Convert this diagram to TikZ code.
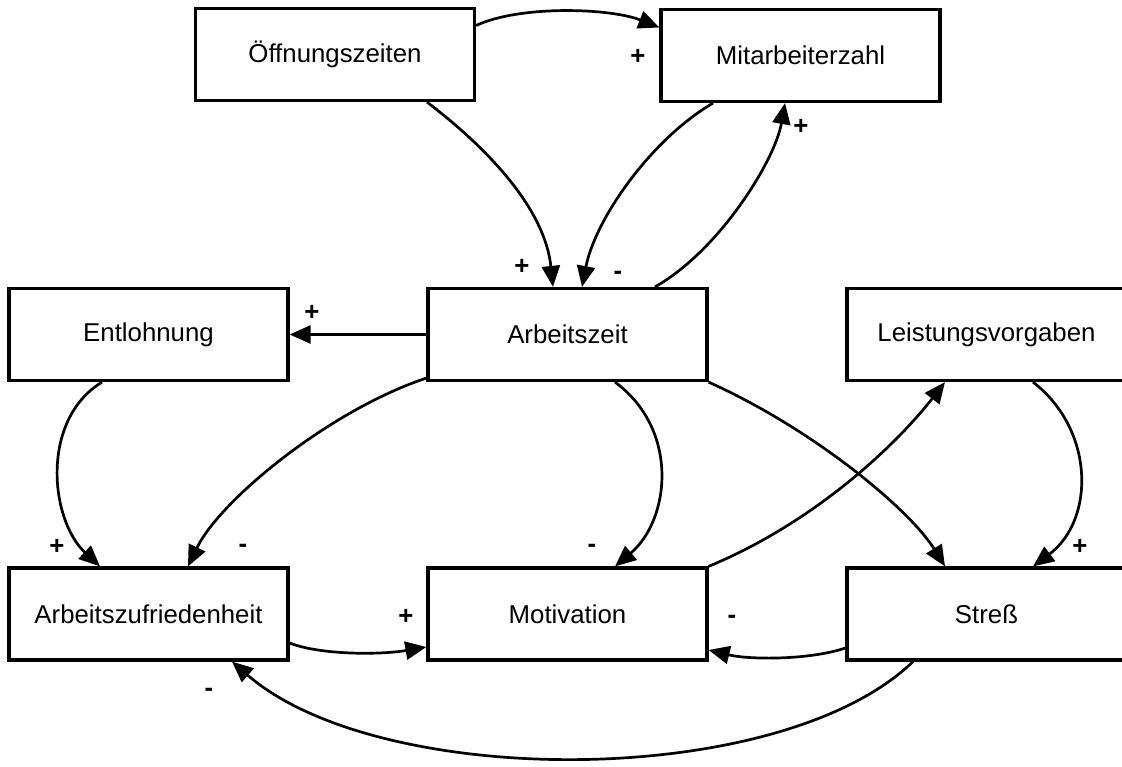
\documentclass[tikz,border=0pt]{standalone}
\usepackage{fontspec}
\setmainfont{Liberation Sans}
\usetikzlibrary{arrows.meta,calc}
\begin{document}
\begin{tikzpicture}[x=1pt,y=-1pt,
 box/.style={draw, line width=3.2pt, minimum width=279pt, minimum height=92pt, inner sep=0pt, font=\fontsize{25.8}{30}\selectfont},
 conn/.style={line width=2.7pt, -{Triangle[length=21pt,width=18pt]}},
 sign/.style={font=\fontsize{25.8}{30}\selectfont\bfseries, inner sep=0pt}]
\clip (0,0) rectangle (1122,767);
\fill[white] (0,0) rectangle (1122,767);
% boxes
\node[box] (Oeff) at (335,54.5) {Öffnungszeiten};
\node[box] (Mit) at (800.5,55.5) {Mitarbeiterzahl};
\node[box] (Az) at (567.5,334.5) {Arbeitszeit};
\node[box] (Ent) at (148.5,334.5) {Entlohnung};
\node[box] (Lei) at (986.5,334.5) {Leistungsvorgaben};
\node[box] (Azuf) at (148.5,614) {Arbeitszufriedenheit};
\node[box] (Mot) at (567.5,614) {Motivation};
\node[box] (Str) at (986.5,614) {Streß};
% connectors
\draw[conn] ($(Oeff.east)+(0,-29)$) .. controls (520,5) and (610,8) .. ($(Mit.west)+(0,-28)$);
\draw[conn] ($(Oeff.south)+(92,0)$) .. controls (490,150) and (545,210) .. ($(Az.north)+(-14.5,0)$);
\draw[conn] ($(Mit.south)+(-87.5,0)$) .. controls (650,140) and (595,220) .. ($(Az.north)+(14.5,0)$);
\draw[conn] ($(Az.north)+(87.5,0)$) .. controls (720,250) and (775,160) .. ($(Mit.south)+(-15.5,0)$);
\draw[conn] (Az.west) -- (Ent.east);
\draw[conn] ($(Ent.south)+(-46.5,0)$) .. controls (40,420) and (50,520) .. ($(Azuf.north)+(-48.5,0)$);
\draw[conn] ($(Az.south west)+(0,-4)$) .. controls (330,410) and (220,500) .. ($(Azuf.north)+(39.5,0)$);
\draw[conn] ($(Az.south)+(47.5,0)$) .. controls (680,430) and (670,520) .. ($(Mot.north)+(47.5,0)$);
\draw[conn] (Az.south east) .. controls (815,430) and (910,510) .. ($(Str.north)+(-41.5,0)$);
\draw[conn] (Mot.north east) .. controls (820,520) and (900,440) .. ($(Lei.south)+(-41.5,0)$);
\draw[conn] ($(Lei.south)+(46.5,0)$) .. controls (1095,430) and (1095,520) .. ($(Str.north)+(46.5,0)$);
\draw[conn] ($(Azuf.east)+(0,29)$) .. controls (320,655) and (380,655) .. ($(Mot.west)+(0,33)$);
\draw[conn] ($(Str.west)+(0,34)$) .. controls (810,660) and (750,660) .. ($(Mot.east)+(0,36)$);
\draw[conn] ($(Str.south)+(-73.5,0)$) .. controls (780,790) and (380,790) .. ($(Azuf.south)+(83.5,0)$);
% signs
\node[sign] (s1) at (638,57) {+};
\node[sign] (s2) at (522,267) {+};
\node[sign] (s3) at (618,275) {-};
\node[sign] (s4) at (801,127) {+};
\node[sign] (s5) at (312,313) {+};
\node[sign] (s6) at (57,547) {+};
\node[sign] (s7) at (243,548) {-};
\node[sign] (s8) at (592,548) {-};
\node[sign] (s9) at (1080,547) {+};
\node[sign] (s10) at (406,617) {+};
\node[sign] (s11) at (732,619) {-};
\node[sign] (s12) at (209,692) {-};
\end{tikzpicture}
\end{document}
